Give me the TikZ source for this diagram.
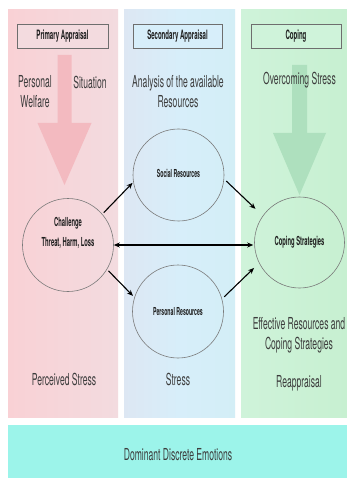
\documentclass[tikz,border=0pt]{standalone}
\usepackage{fontspec}
\setmainfont{TeX Gyre Heros}
\newfontfamily\condfont[FakeStretch=0.52]{TeX Gyre Heros}
\newfontfamily\condbold[FakeStretch=0.47]{TeX Gyre Heros Bold}
\usetikzlibrary{arrows.meta,shapes.geometric}

\definecolor{redL}{HTML}{F9D1D5}
\definecolor{redR}{HTML}{F3DBDF}
\definecolor{blueL}{HTML}{DDE7F3}
\definecolor{blueM}{HTML}{D7EEFA}
\definecolor{blueR}{HTML}{D3EEF6}
\definecolor{greenL}{HTML}{CFF3DA}
\definecolor{greenR}{HTML}{C7F0D1}
\definecolor{emobar}{HTML}{9CF4EA}
\definecolor{redarrow}{HTML}{F3BAC0}
\definecolor{greenarrow}{HTML}{AEE0BE}
\definecolor{boxline}{HTML}{6E6E6E}
\definecolor{circline}{HTML}{7A7A7A}
\definecolor{textgrey}{HTML}{3C3C3C}
\definecolor{textdark}{HTML}{1E1E1E}

\tikzset{
  titlebox/.style={draw=boxline, line width=0.8pt, minimum height=24pt,
    inner sep=0pt, text=textdark,
    font=\condbold\fontsize{12.9}{14}\selectfont},
  plain/.style={text=textgrey, align=center, inner sep=0pt,
    font=\condfont\fontsize{16.5}{20}\selectfont},
  bubble/.style={ellipse, draw=circline, line width=0.6pt, inner sep=0pt,
    minimum width=91pt, minimum height=93pt},
  bubtext/.style={text=textdark, align=center, inner sep=0pt,
    font=\condbold\fontsize{11}{13}\selectfont},
  bigtext/.style={bubtext, font=\condbold\fontsize{12.4}{19.5}\selectfont},
  arr/.style={-{Stealth[length=6pt,width=5pt]}, line width=1.1pt, black},
  darr/.style={{Stealth[length=6pt,width=5pt]}-{Stealth[length=6pt,width=5pt]},
    line width=1.1pt, black}
}

\begin{document}
\begin{tikzpicture}[x=1pt,y=-1pt]
\useasboundingbox (0,0) rectangle (347,478);
\fill[white] (0,0) rectangle (347,478);

% three stage columns and the emotion band
\shade[left color=redL, right color=redR] (8,10) rectangle (118,417);
\shade[left color=blueL, right color=blueR, middle color=blueM] (124,10) rectangle (235,417);
\shade[left color=greenL, right color=greenR] (241,10) rectangle (347,417);
\fill[emobar] (8,425) rectangle (347,478);

% broad downward arrows
\fill[redarrow] (57.5,55) -- (71.5,55) -- (71.5,123) -- (91.5,123)
  -- (64.5,185) -- (37.5,123) -- (57.5,123) -- cycle;
\fill[greenarrow] (292,65) -- (307,65) -- (307,133) -- (326,133)
  -- (299.5,195) -- (273,133) -- (292,133) -- cycle;

% stage headings
\node[titlebox, fill=redR, minimum width=91pt] (primary) at (62.5,36) {Primary Appraisal};
\node[titlebox, fill=blueM, minimum width=89pt] (secondary) at (177.5,36) {Secondary Appraisal};
\node[titlebox, fill=greenL, minimum width=90pt] (coping) at (296,36) {Coping};

% column texts
\node[plain] (welfare) at (35,92) {Personal\\Welfare};
\node[plain] (situation) at (90,82) {Situation};
\node[plain] (analysis) at (178,92) {Analysis of the available\\Resources};
\node[plain] (overcome) at (299.5,80) {Overcoming Stress};
\node[plain] (effective) at (299,335) {Effective Resources and\\Coping Strategies};
\node[plain] (perceived) at (64,379) {Perceived Stress};
\node[plain] (stress) at (178,379) {Stress};
\node[plain] (reapp) at (299,383) {Reappraisal};
\node[plain] (emotions) at (178,455) {Dominant Discrete Emotions};

% appraisal and resource bubbles
\node[bubble] (chal) at (68,245) {};
\node[bigtext] (chaltext) at ([yshift=12pt]chal.center) {Challenge\\Threat, Harm, Loss};
\node[bubble, minimum height=92pt] (soc) at (178.5,175) {};
\node[bubtext] (soctext) at ([yshift=2pt]soc.center) {Social Resources};
\node[bubble] (pers) at (178,311.5) {};
\node[bubtext] (perstext) at (pers.center) {Personal Resources};
\node[bubble, minimum width=90pt, minimum height=91pt] (cop) at (299.5,242.5) {};
\node[bigtext] (coptext) at (cop.center) {Coping Strategies};

% connectors
\draw[arr, shorten <=2pt, shorten >=1pt] (chal.42) -- (soc.189);
\draw[arr, shorten <=2pt, shorten >=2pt] (chal.-32) -- (pers.162);
\draw[arr, shorten <=3pt, shorten >=10pt] (soc.-5) -- (cop.144);
\draw[arr, shorten <=3pt, shorten >=7pt] (pers.16) -- (cop.207);
\draw[darr, shorten >=1pt] (chal.east) -- (cop.west |- chal.east);
\end{tikzpicture}
\end{document}
